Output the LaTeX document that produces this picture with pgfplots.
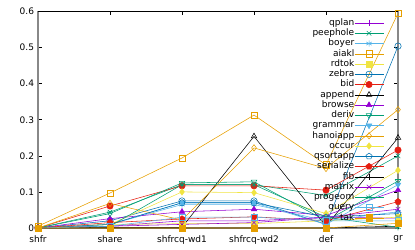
\documentclass[border=0pt]{standalone}
\usepackage{pgfplots}
\pgfplotsset{compat=1.18}
\usepackage{fontspec}
\setmainfont{DejaVu Sans}
\definecolor{c1}{HTML}{9400D3}
\definecolor{c2}{HTML}{009E73}
\definecolor{c3}{HTML}{56B4E9}
\definecolor{c4}{HTML}{E69F00}
\definecolor{c5}{HTML}{F0E442}
\definecolor{c6}{HTML}{0072B2}
\definecolor{c7}{HTML}{E51E10}
\definecolor{c8}{HTML}{000000}
\definecolor{brd}{HTML}{888888}
\begin{document}
\begin{tikzpicture}
\begin{axis}[
  scale only axis, width=360bp, height=216.5bp,
  xmin=0, xmax=5, ymin=0, ymax=0.6,
  xtick={0,1,2,3,4,5},
  xticklabels={shfr,share,shfrcq-wd1,shfrcq-wd2,def,gr},
  ytick={0,0.1,0.2,0.3,0.4,0.5,0.6},
  /pgf/number format/assume math mode=true,
  tick align=inside, major tick length=4bp,
  tick style={black, line width=0.6bp},
  axis line style={draw=none},
  clip=false,
  tick label style={font=\fontsize{9bp}{11bp}\selectfont},
  xticklabel style={yshift=-4bp},
  yticklabel style={xshift=-0.5bp},
  every axis plot/.append style={line width=0.55bp, mark size=3.2bp, mark options={solid}},
  legend image code/.code={\draw[mark repeat=2,mark phase=2,#1] plot coordinates {(0bp,0bp) (14.5bp,0bp) (29bp,0bp)};},
  legend plot pos=right,
  legend cell align=right,
  legend style={draw=none, fill=none, at={(1,1)}, anchor=north east, xshift=-11bp, yshift=-5bp,
    font=\fontsize{9bp}{10.25bp}\selectfont,
    nodes={inner sep=0pt, text height=6.6bp, text depth=2.1bp},
    row sep=1.55bp,
    /tikz/every even column/.append style={column sep=4bp}},
]
\draw[brd, line width=1.6bp] (rel axis cs:0,1) -- (rel axis cs:0,0) -- (rel axis cs:1,0) -- (rel axis cs:1,1);
\draw[black, line width=0.6bp] (rel axis cs:0,1) -- (rel axis cs:1,1);
\coordinate (bl) at (rel axis cs:0,0);
\coordinate (tr) at (rel axis cs:1,1);

\addplot[c1, mark=+] coordinates {(0,0) (1,0.005) (2,0.02) (3,0.02) (4,0.03) (5,0.027)};
\addlegendentry{qplan}
\addplot[c2, mark=x] coordinates {(0,0) (1,0.044) (2,0.12) (3,0.12) (4,0.09) (5,0.2)};
\addlegendentry{peephole}
\addplot[c3, mark=asterisk] coordinates {(0,0) (1,0.01) (2,0.065) (3,0.065) (4,0.02) (5,0.045)};
\addlegendentry{boyer}
\addplot[c4, mark=square] coordinates {(0,0.005) (1,0.097) (2,0.194) (3,0.313) (4,0.175) (5,0.595)};
\addlegendentry{aiakl}
\addplot[c5, mark=square*] coordinates {(0,0) (1,0.01) (2,0.012) (3,0.012) (4,0.02) (5,0.03)};
\addlegendentry{rdtok}
\addplot[c6, mark=o] coordinates {(0,0) (1,0.02) (2,0.075) (3,0.075) (4,0.01) (5,0.504)};
\addlegendentry{zebra}
\addplot[c7, mark=*] coordinates {(0,0) (1,0.061) (2,0.117) (3,0.117) (4,0.105) (5,0.216)};
\addlegendentry{bid}
\addplot[c8, mark=triangle] coordinates {(0,0) (1,0.002) (2,0.002) (3,0.254) (4,0.005) (5,0.25)};
\addlegendentry{append}
\addplot[c1, mark=triangle*] coordinates {(0,0) (1,0.026) (2,0.045) (3,0.052) (4,0.035) (5,0.105)};
\addlegendentry{browse}
\addplot[c2, mark=triangle, mark options={rotate=180}] coordinates {(0,0) (1,0.04) (2,0.125) (3,0.128) (4,0.02) (5,0.13)};
\addlegendentry{deriv}
\addplot[c3, mark=triangle*, mark options={rotate=180}] coordinates {(0,0) (1,0.01) (2,0.07) (3,0.07) (4,0.01) (5,0.12)};
\addlegendentry{grammar}
\addplot[c4, mark=diamond] coordinates {(0,0) (1,0.068) (2,0.022) (3,0.222) (4,0.165) (5,0.328)};
\addlegendentry{hanoiapp}
\addplot[c5, mark=diamond*] coordinates {(0,0) (1,0.01) (2,0.1) (3,0.098) (4,0.04) (5,0.16)};
\addlegendentry{occur}
\addplot[c6, mark=pentagon] coordinates {(0,0) (1,0.01) (2,0.07) (3,0.07) (4,0.03) (5,0.04)};
\addlegendentry{qsortapp}
\addplot[c7, mark=pentagon*] coordinates {(0,0) (1,0.015) (2,0.025) (3,0.031) (4,0.02) (5,0.073)};
\addlegendentry{serialize}
\addplot[c8, mark=+] coordinates {(0,0) (1,0) (2,0) (3,0) (4,0) (5,0.005)};
\addlegendentry{fib}
\addplot[c1, mark=x] coordinates {(0,0) (1,0.005) (2,0.01) (3,0.015) (4,0.03) (5,0.052)};
\addlegendentry{matrix}
\addplot[c2, mark=asterisk] coordinates {(0,0) (1,0.005) (2,0.12) (3,0.12) (4,0.03) (5,0.002)};
\addlegendentry{progeom}
\addplot[c3, mark=square] coordinates {(0,0) (1,0.005) (2,0.03) (3,0.03) (4,0.02) (5,0.02)};
\addlegendentry{query}
\addplot[c4, mark=square*] coordinates {(0,0) (1,0) (2,0) (3,0) (4,0) (5,0.013)};
\addlegendentry{tak}
\end{axis}
\path ([shift={(-38bp,-21bp)}]bl) rectangle ([shift={(17bp,11.5bp)}]tr);
\end{tikzpicture}
\end{document}
